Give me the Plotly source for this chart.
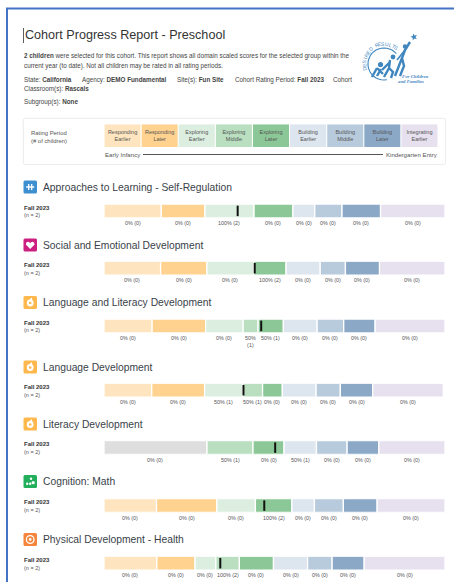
import math
import plotly.graph_objects as go

FONT = "Liberation Sans, Arial, sans-serif"
W, H = 454, 582

LEVEL_COLORS = {"RE": "#FFE5BF", "RL": "#FFD38F", "EE": "#DCEEE0", "EM": "#B9DEC0", "EL": "#8CC897",
                "BE": "#DDE5EF", "BM": "#B8CBDD", "BL": "#8BA9C7", "IE": "#E6E0EF", "NA": "#DEDEDE"}

legend_levels = ["RE", "RL", "EE", "EM", "EL", "BE", "BM", "BL", "IE"]
legend_labels = ["Responding<br>Earlier", "Responding<br>Later", "Exploring<br>Earlier", "Exploring<br>Middle",
                 "Exploring<br>Later", "Building<br>Earlier", "Building<br>Middle", "Building<br>Later",
                 "Integrating<br>Earlier"]

domains = ["Approaches to Learning - Self-Regulation", "Social and Emotional Development",
           "Language and Literacy Development", "Language Development", "Literacy Development",
           "Cognition: Math", "Physical Development - Health"]
domain_levels = [
    ["RE", "RL", "EE", "EL", "BE", "BM", "BL", "IE"],
    ["RE", "RL", "EE", "EL", "BE", "BM", "BL", "IE"],
    ["RE", "RL", "EE", "EM", "EL", "BE", "BM", "BL", "IE"],
    ["RE", "RL", "EE", "EM", "EL", "BE", "BM", "BL", "IE"],
    ["NA", "EM", "EL", "BE", "BM", "BL", "IE"],
    ["RE", "RL", "EE", "EL", "BE", "BM", "BL", "IE"],
    ["RE", "RL", "EE", "EM", "EL", "BE", "BM", "BL", "IE"],
]
# width of each band, percent of the full scale
domain_widths = [
    [16.8, 12.8, 14.4, 11.4, 6.4, 8.0, 11.3, 18.9],
    [16.6, 13.6, 13.7, 9.5, 10.0, 7.4, 10.0, 19.2],
    [14.1, 15.7, 11.0, 4.4, 7.4, 9.9, 7.8, 9.2, 20.5],
    [14.0, 15.5, 11.2, 5.8, 5.8, 9.9, 7.1, 9.5, 20.7],
    [30.2, 13.5, 9.1, 9.5, 9.0, 9.3, 19.4],
    [15.4, 17.7, 11.3, 10.7, 6.6, 8.5, 9.9, 19.9],
    [15.5, 11.2, 6.1, 6.9, 10.0, 10.0, 7.2, 9.4, 23.7],
]
domain_labels = [
    ["0% (0)", "0% (0)", "100% (2)", "0% (0)", "0% (0)", "0% (0)", "0% (0)", "0% (0)"],
    ["0% (0)", "0% (0)", "0% (0)", "100% (2)", "0% (0)", "0% (0)", "0% (0)", "0% (0)"],
    ["0% (0)", "0% (0)", "0% (0)", "50%<br>(1)", "50% (1)", "0% (0)", "0% (0)", "0% (0)", "0% (0)"],
    ["0% (0)", "0% (0)", "50% (1)", "50% (1)", "0% (0)", "0% (0)", "0% (0)", "0% (0)", "0% (0)"],
    ["0% (0)", "50% (1)", "0% (0)", "50% (1)", "0% (0)", "0% (0)", "0% (0)"],
    ["0% (0)", "0% (0)", "0% (0)", "100% (2)", "0% (0)", "0% (0)", "0% (0)", "0% (0)"],
    ["0% (0)", "0% (0)", "0% (0)", "100% (2)", "0% (0)", "0% (0)", "0% (0)", "0% (0)", "0% (0)"],
]
domain_means = [39.2, 44.2, 46.1, 40.9, 50.2, 47.0, 34.1]
period_label = "Fall 2023"
n_label = "(n = 2)"

# page layout (pixels)
BAR_X0, BAR_X1 = 104, 445
ROW_TOP = [204, 261.3, 319, 383.3, 440.7, 498.7, 556.3]
HEAD_Y = [187, 245, 302.5, 367, 424, 481.5, 539.5]
BAR_H = 13.8

fig = go.Figure()
layout_axes = {}
annots, shapes = [], []


def txt(x, y, s, size=6.3, color="#444", anchor="left", **kw):
    annots.append(dict(xref="x20", yref="y20", x=x, y=y, text=s, showarrow=False, xanchor=anchor, yanchor="middle",
                       font=dict(family=kw.pop("family", FONT), size=size, color=color), align=kw.pop("align", anchor),
                       borderpad=0, **kw))


def path(d, **kw):
    s = dict(type="path", path=d, xref="x20", yref="y20", line=dict(width=0))
    s.update(kw)
    shapes.append(s)


def rounded(x0, y0, x1, y1, r):
    return (f"M{x0+r},{y0} L{x1-r},{y0} Q{x1},{y0} {x1},{y0+r} L{x1},{y1-r} Q{x1},{y1} {x1-r},{y1} "
            f"L{x0+r},{y1} Q{x0},{y1} {x0},{y1-r} L{x0},{y0+r} Q{x0},{y0} {x0+r},{y0} Z")


# overlay axis in page pixels
layout_axes["xaxis20"] = dict(domain=[0, 1], range=[0, W], visible=False, fixedrange=True)
layout_axes["yaxis20"] = dict(domain=[0, 1], range=[H, 0], visible=False, fixedrange=True, anchor="x20")

# domain rows
for i, (levels, widths, labels, mean) in enumerate(zip(domain_levels, domain_widths, domain_labels, domain_means)):
    n = i + 1
    xa, ya = f"x{n}", f"y{n}"
    top = ROW_TOP[i]
    layout_axes[f"xaxis{n}"] = dict(domain=[BAR_X0 / W, BAR_X1 / W], range=[0, 100], visible=False, fixedrange=True,
                                    anchor=ya)
    layout_axes[f"yaxis{n}"] = dict(domain=[1 - (top + BAR_H) / H, 1 - top / H], range=[-0.5, 0.5], visible=False,
                                    fixedrange=True, anchor=xa)
    base = 0
    for lev, w, lab in zip(levels, widths, labels):
        fig.add_trace(go.Bar(x=[w], y=[0], base=base, orientation="h", width=1, xaxis=xa, yaxis=ya,
                             marker=dict(color=LEVEL_COLORS[lev], line=dict(color="white", width=1.3)),
                             hoverinfo="skip", showlegend=False))
        cx = BAR_X0 + (base + w / 2) / 100 * (BAR_X1 - BAR_X0)
        two = "<br>" in lab
        txt(cx, top + BAR_H + (8.3 if two else 5.2), lab, size=5.4, color="#555", anchor="center")
        base += w
    fig.add_trace(go.Scatter(x=[mean], y=[0], mode="markers", xaxis=xa, yaxis=ya, showlegend=False, hoverinfo="skip",
                             cliponaxis=False,
                             marker=dict(symbol="line-ns", size=7.5, line=dict(color="#111", width=2))))
    txt(23, top + 3.6, f"<b>{period_label}</b>", size=6, color="#333")
    txt(23, top + 11.4, n_label, size=5.5, color="#555")
    txt(42.4, HEAD_Y[i], domains[i], size=10.3, color="#3a3f4a")

# rating-period key
layout_axes["xaxis10"] = dict(domain=[104 / W, 438 / W], range=[-0.5, 8.5], visible=False, fixedrange=True,
                              anchor="y10")
layout_axes["yaxis10"] = dict(domain=[1 - 147 / H, 1 - 124.3 / H], range=[-0.5, 0.5], visible=False, fixedrange=True,
                              anchor="x10")
fig.add_trace(go.Bar(x=list(range(9)), y=[1] * 9, base=-0.5, width=0.97, xaxis="x10", yaxis="y10",
                     marker=dict(color=[LEVEL_COLORS[k] for k in legend_levels], line=dict(width=0)),
                     text=legend_labels, textposition="inside", insidetextanchor="middle", textangle=0,
                     constraintext="none", textfont=dict(family=FONT, size=5.5, color="#555"),
                     hoverinfo="skip", showlegend=False))

# page frame
shapes.append(dict(type="rect", xref="x20", yref="y20", x0=6, x1=8, y0=8, y1=H, fillcolor="#4472C4", line=dict(width=0)))
shapes.append(dict(type="rect", xref="x20", yref="y20", x0=6, x1=W, y0=7.5, y1=9.5, fillcolor="#4472C4", line=dict(width=0)))
shapes.append(dict(type="line", xref="x20", yref="y20", x0=23.5, x1=23.5, y0=28, y1=43, line=dict(color="#333", width=0.8)))

# key box
path(rounded(23.3, 118.3, 445.5, 164.5, 2), line=dict(color="#ECECEC", width=1), fillcolor="rgba(0,0,0,0)", layer="below")
shapes.append(dict(type="line", xref="x20", yref="y20", x0=143, x1=383, y0=154.5, y1=154.5, line=dict(color="#555", width=1)))

txt(23.8, 35, "Cohort Progress Report - Preschool", size=12.6, color="#333")
txt(23, 56, "<b>2 children</b> were selected for this cohort. This report shows all domain scaled scores for the selected group within the")
txt(23, 65.7, "current year (to date). Not all children may be rated in all rating periods.")
txt(23, 79.5, "State: <b>California</b>")
txt(80.5, 79.5, "Agency: <b>DEMO Fundamental</b>")
txt(176, 79.5, "Site(s): <b>Fun Site</b>")
txt(233.5, 79.5, "Cohort Rating Period: <b>Fall 2023</b>")
txt(332, 79.5, "Cohort")
txt(23, 89.2, "Classroom(s): <b>Rascals</b>")
txt(23, 102, "Subgroup(s): <b>None</b>")
txt(29.5, 133, "Rating Period", size=5.9, color="#555")
txt(29.5, 141, "(# of children)", size=5.9, color="#555")
txt(103.5, 154.8, "Early Infancy", size=6.1, color="#555")
txt(439, 154.8, "Kindergarten Entry", size=6.1, color="#555", anchor="right")

# domain icons
ICONS = ["#3E8FD0", "#CC1F7F", "#FFB84D", "#FFB84D", "#FFB84D", "#22AF5C", "#F5843C"]
for i, (y, c) in enumerate(zip(HEAD_Y, ICONS)):
    path(rounded(23.5, y - 6.5, 37, y + 6.5, 1.5), fillcolor=c)
    cx, cy = 30.2, y
    if i == 0:
        path(f"M{cx-4},{cy} L{cx+4},{cy} M{cx-1.5},{cy-3} L{cx-1.5},{cy+3} M{cx+1.5},{cy-3} L{cx+1.5},{cy+3}",
             line=dict(color="white", width=1.3))
    elif i == 1:
        path(f"M{cx},{cy+4} L{cx-4.4},{cy-0.6} Q{cx-4.4},{cy-3.4} {cx-2},{cy-3.2} Q{cx-0.6},{cy-3} {cx},{cy-1.8} "
             f"Q{cx+0.6},{cy-3} {cx+2},{cy-3.2} Q{cx+4.4},{cy-3.4} {cx+4.4},{cy-0.6} Z", fillcolor="white")
    elif i in (2, 3, 4):
        shapes.append(dict(type="circle", xref="x20", yref="y20", x0=cx - 3.4, x1=cx + 3.4, y0=cy - 2.9, y1=cy + 3.9,
                           fillcolor="white", line=dict(width=0)))
        path(f"M{cx-1},{cy-2.5} L{cx+1.6},{cy-5} L{cx+2},{cy-2} Z", fillcolor="white")
        shapes.append(dict(type="circle", xref="x20", yref="y20", x0=cx - 1.3, x1=cx + 1.3, y0=cy - 0.8, y1=cy + 1.8,
                           fillcolor=c, line=dict(width=0)))
    elif i == 5:
        for dx, dy, r in [(0.8, -2.8, 1.2), (-3, 2.2, 1.2), (0, 2.2, 1.2), (3, 1.2, 1.6)]:
            shapes.append(dict(type="circle", xref="x20", yref="y20", x0=cx + dx - r, x1=cx + dx + r,
                               y0=cy + dy - r, y1=cy + dy + r, fillcolor="white", line=dict(width=0)))
    else:
        shapes.append(dict(type="circle", xref="x20", yref="y20", x0=cx - 3.8, x1=cx + 3.8, y0=cy - 3.8, y1=cy + 3.8,
                           fillcolor="rgba(0,0,0,0)", line=dict(color="white", width=1.3)))
        shapes.append(dict(type="circle", xref="x20", yref="y20", x0=cx - 1.4, x1=cx + 1.4, y0=cy - 1.4, y1=cy + 1.4,
                           fillcolor="white", line=dict(width=0)))

# logo
LOGO = "#3F86BF"
LCX, LCY, LR = 384, 64, 16
pts = []
for a in range(40, 290, 10):
    t = math.radians(a)
    pts.append(f"{LCX + LR * math.cos(t):.1f},{LCY - LR * math.sin(t):.1f}")
path("M" + " L".join(pts), line=dict(color=LOGO, width=1.1))
letters = "DESIRED RESULTS"
for k, ch in enumerate(letters):
    a = 192 - k * (192 - 52) / (len(letters) - 1)
    t = math.radians(a)
    annots.append(dict(xref="x20", yref="y20", x=LCX + 20 * math.cos(t), y=LCY - 20 * math.sin(t), text=ch,
                       showarrow=False, textangle=90 - a, font=dict(family=FONT, size=5, color=LOGO)))
limb = dict(line=dict(color=LOGO, width=2.4))
path("M410,42 L405,50 L402,58 L395,76 M402,58 L404,66 L400,76", **limb)
path("M405,50 L397,60", line=dict(color=LOGO, width=1.6))
path("M390,60 L389,68 L384,77 M389,68 L393,72 L391,78 M390,62 L382,70", **limb)
path("M377,68 L372,77 M377,68 L383,74 M381,69 L377,76", **limb)
for cx, cy, r in [(405, 46.5, 2.2), (393, 57, 2.4), (380.5, 64.5, 2.6)]:
    shapes.append(dict(type="circle", xref="x20", yref="y20", x0=cx - r, x1=cx + r, y0=cy - r, y1=cy + r,
                       fillcolor=LOGO, line=dict(width=0)))
star = []
for k in range(10):
    t = math.radians(90 + 36 * k + 15)
    r = 3.6 if k % 2 == 0 else 1.5
    star.append(f"{414 + r * math.cos(t):.1f},{37 - r * math.sin(t):.1f}")
path("M" + " L".join(star) + " Z", fillcolor=LOGO)
SERIF = "Liberation Serif, serif"
txt(401, 76.3, "<b><i>For Children</i></b>", size=4.8, color=LOGO, family=SERIF)
txt(397, 81.5, "<b><i>and Families</i></b>", size=4.8, color=LOGO, family=SERIF)

fig.update_layout(width=W, height=H, margin=dict(l=0, r=0, t=0, b=0), paper_bgcolor="white", plot_bgcolor="rgba(0,0,0,0)",
                  barmode="overlay", showlegend=False, annotations=annots, shapes=shapes, **layout_axes)
fig.write_html("out.html", config={"displayModeBar": False},
               post_script="document.body.style.margin='0';document.documentElement.style.overflow='hidden';")
